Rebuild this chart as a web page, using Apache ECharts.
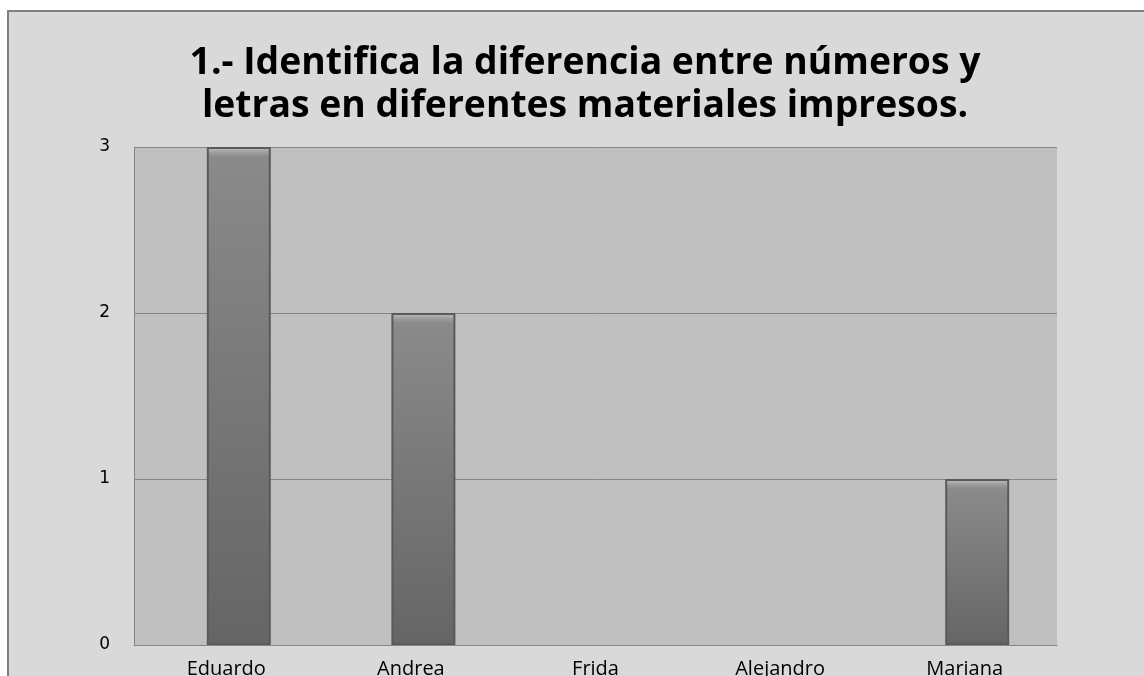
<!DOCTYPE html>
<html><head><meta charset="utf-8">
<script src="https://cdn.jsdelivr.net/npm/echarts@6/dist/echarts.min.js"></script>
<style>html,body{margin:0;padding:0;background:#fff}#c{width:1144px;height:676px}</style>
</head><body><div id="c"></div>
<script>
const categories = ['Eduardo', 'Andrea', 'Frida', 'Alejandro', 'Mariana'];
const values = [3, 2, 0, 0, 1];
const yTicks = [0, 1, 2, 3];
const titleLines = ['1.- Identifica la diferencia entre números y', 'letras en diferentes materiales impresos.'];

const titleFont = 'Open Sans';
const cv = document.createElement('canvas').getContext('2d');
cv.font = 'bold 100px "' + titleFont + '"';
const w100 = cv.measureText(titleLines[0]).width;
const tSize = Math.round(100 * 790 / w100 * 10) / 10;

const chart = echarts.init(document.getElementById('c'));
const pxPerUnit = 498 / 3;
const barData = values.map(v => v === 0 ? { value: v, itemStyle: { borderWidth: 0 } } : v);
chart.setOption({
  backgroundColor: '#ffffff',
  animation: false,
  graphic: [
    { type: 'rect', z: -10, shape: { x: 8, y: 11, width: 1200, height: 700 },
      style: { fill: '#d9d9d9', stroke: '#808080', lineWidth: 2 } },
    { type: 'text', z: 10, x: 585, y: 42,
      style: { text: titleLines.join('\n'), font: 'bold ' + tSize + 'px "' + titleFont + '"',
        fill: '#000', align: 'center', verticalAlign: 'top', lineHeight: 43 } }
  ],
  grid: [
    { left: 134, right: 87, top: 147, bottom: 31, show: true, backgroundColor: '#c0c0c0', borderWidth: 0,
      outerBoundsMode: 'none', containLabel: false },
    { left: 146.5, right: 74.5, top: 147, bottom: 31, show: false, outerBoundsMode: 'none', containLabel: false }
  ],
  xAxis: [
    { type: 'category', gridIndex: 0, data: categories,
      axisLine: { show: true, lineStyle: { color: '#868686', width: 1 } },
      axisTick: { show: false },
      axisLabel: { color: '#000', fontSize: 20, fontFamily: 'Open Sans', margin: 14 } },
    { type: 'category', gridIndex: 1, data: categories, show: false }
  ],
  yAxis: [
    { type: 'value', gridIndex: 0, min: yTicks[0], max: yTicks[yTicks.length - 1], interval: 1,
      axisLine: { show: true, lineStyle: { color: '#868686', width: 1 } },
      axisTick: { show: false },
      splitLine: { show: true, lineStyle: { color: '#868686', width: 1 } },
      axisLabel: { color: '#000', fontSize: 17, fontFamily: 'DejaVu Sans', margin: 24 } },
    { type: 'value', gridIndex: 1, min: yTicks[0], max: yTicks[yTicks.length - 1], show: false }
  ],
  series: [{
    type: 'bar', xAxisIndex: 1, yAxisIndex: 1, data: barData, barWidth: 64,
    itemStyle: {
      borderColor: '#5a5a5a', borderWidth: 2,
      color: function (p) {
        const h = Math.max(p.value * pxPerUnit, 1);
        const f = Math.min(10 / h, 0.5);
        return new echarts.graphic.LinearGradient(0, 0, 0, 1, [
          { offset: 0, color: '#c4c4c4' },
          { offset: f * 0.5, color: '#a0a0a0' },
          { offset: f, color: '#8a8a8a' },
          { offset: 1, color: '#656565' }
        ]);
      }
    }
  }]
});
</script></body></html>
